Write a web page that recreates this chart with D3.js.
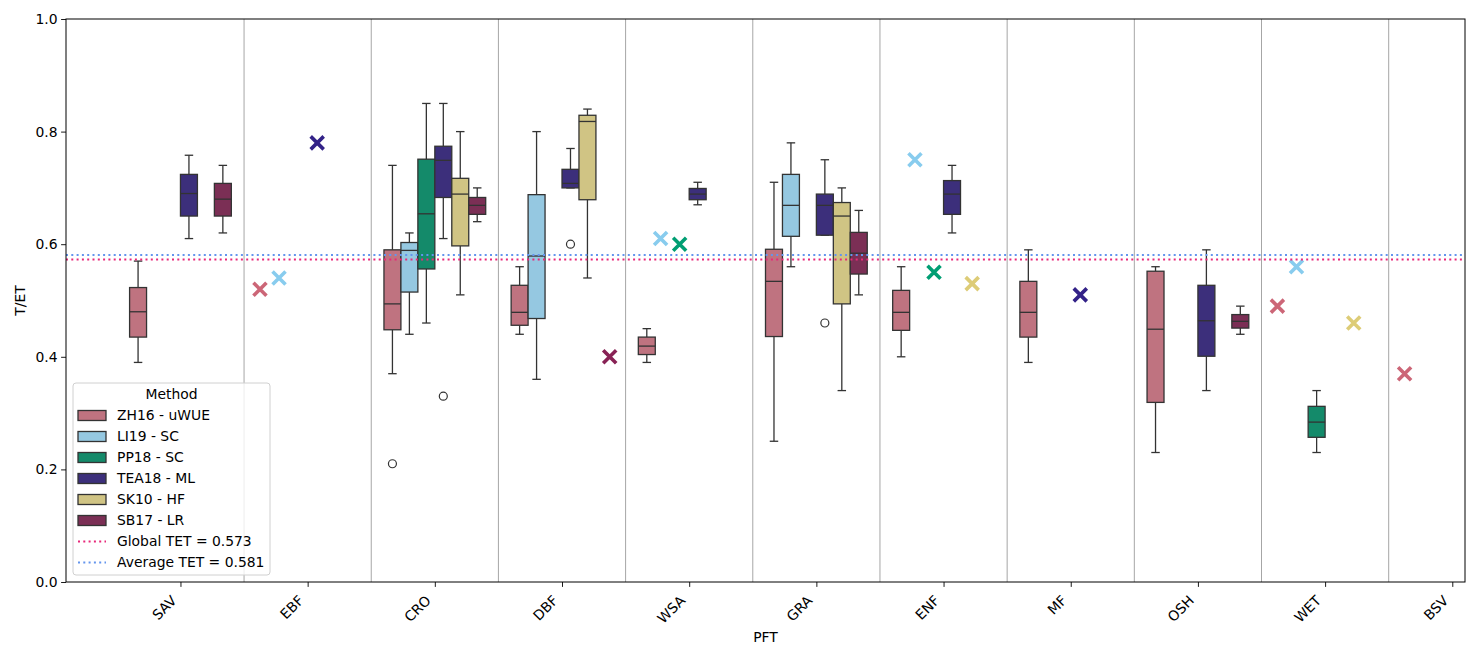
<!DOCTYPE html>
<meta charset="utf-8">
<style>
body { margin: 0; background: #fff; }
svg text { font-family: "DejaVu Sans", sans-serif; }
.tick text { font-size: 13.9px; fill: #000; }
.tick line { stroke: #000; stroke-width: 0.9; }
</style>
<svg width="1482" height="656"></svg>
<script src="https://d3js.org/d3.v7.min.js"></script>
<script>
// categories and hues
var pfts = ["SAV", "EBF", "CRO", "DBF", "WSA", "GRA", "ENF", "MF", "OSH", "WET", "BSV"];
var methods = ["ZH16 - uWUE", "LI19 - SC", "PP18 - SC", "TEA18 - ML", "SK10 - HF", "SB17 - LR"];
var methodColors = ["#CC6677", "#88CCEE", "#009E73", "#332288", "#DDCC77", "#882255"];

// pft, method index, whisker low, q1, median, q3, whisker high
var boxRows = [
  ["SAV", 0, 0.39, 0.435, 0.48, 0.523, 0.57],
  ["SAV", 3, 0.61, 0.65, 0.69, 0.724, 0.758],
  ["SAV", 5, 0.62, 0.65, 0.68, 0.708, 0.74],
  ["CRO", 0, 0.37, 0.448, 0.494, 0.59, 0.74],
  ["CRO", 1, 0.44, 0.515, 0.589, 0.603, 0.62],
  ["CRO", 2, 0.46, 0.556, 0.654, 0.751, 0.85],
  ["CRO", 3, 0.61, 0.683, 0.749, 0.774, 0.85],
  ["CRO", 4, 0.51, 0.597, 0.689, 0.717, 0.80],
  ["CRO", 5, 0.64, 0.653, 0.669, 0.683, 0.70],
  ["DBF", 0, 0.44, 0.456, 0.479, 0.527, 0.56],
  ["DBF", 1, 0.36, 0.468, 0.579, 0.688, 0.80],
  ["DBF", 3, 0.70, 0.70, 0.708, 0.733, 0.77],
  ["DBF", 4, 0.54, 0.679, 0.818, 0.829, 0.84],
  ["WSA", 0, 0.39, 0.404, 0.419, 0.435, 0.45],
  ["WSA", 3, 0.67, 0.679, 0.689, 0.699, 0.71],
  ["GRA", 0, 0.25, 0.436, 0.534, 0.591, 0.71],
  ["GRA", 1, 0.56, 0.614, 0.669, 0.724, 0.78],
  ["GRA", 3, 0.616, 0.616, 0.669, 0.689, 0.75],
  ["GRA", 4, 0.34, 0.494, 0.65, 0.674, 0.70],
  ["GRA", 5, 0.51, 0.547, 0.584, 0.621, 0.66],
  ["ENF", 0, 0.40, 0.447, 0.479, 0.518, 0.56],
  ["ENF", 3, 0.62, 0.653, 0.689, 0.713, 0.74],
  ["MF", 0, 0.39, 0.435, 0.479, 0.534, 0.59],
  ["OSH", 0, 0.23, 0.319, 0.449, 0.552, 0.56],
  ["OSH", 3, 0.34, 0.401, 0.464, 0.527, 0.59],
  ["OSH", 5, 0.44, 0.451, 0.463, 0.475, 0.49],
  ["WET", 2, 0.23, 0.257, 0.284, 0.312, 0.34]
];

// fliers
var outliers = [
  ["CRO", 0, 0.21],
  ["CRO", 3, 0.33],
  ["DBF", 3, 0.60],
  ["GRA", 3, 0.46]
];

// single-site values drawn as crosses
var singles = [
  ["EBF", 0, 0.52], ["EBF", 1, 0.54], ["EBF", 3, 0.78],
  ["DBF", 5, 0.40],
  ["WSA", 1, 0.61], ["WSA", 2, 0.60],
  ["ENF", 1, 0.75], ["ENF", 2, 0.55], ["ENF", 4, 0.53],
  ["MF", 3, 0.51],
  ["WET", 0, 0.49], ["WET", 1, 0.56], ["WET", 4, 0.46],
  ["BSV", 0, 0.37]
];

var globalTET = 0.573;
var averageTET = 0.581;
var yTicks = [0, 0.2, 0.4, 0.6, 0.8, 1.0];

var svg = d3.select("svg"),
    margin = {top: 19, right: 17, bottom: 74, left: 66},
    width = +svg.attr("width") - margin.left - margin.right,
    height = +svg.attr("height") - margin.top - margin.bottom,
    g = svg.append("g").attr("transform", "translate(" + margin.left + "," + margin.top + ")");

var x = d3.scaleLinear().domain([-0.9, 10.1]).range([0, width]);
var y = d3.scaleLinear().domain([0, 1]).range([height, 0]);
var unit = x(1) - x(0);
var boxW = 0.8 / methods.length;

function boxX(pft, m) { return x(pfts.indexOf(pft) + (m - (methods.length - 1) / 2) * boxW); }
function dotX(pft, m) { return x(pfts.indexOf(pft) + (m - (methods.length - 1) / 2) * 0.15); }
function muted(c) { var h = d3.hsl(c); h.s *= 0.75; return h.formatHex(); }

// category separators
g.selectAll(".sep")
  .data(d3.range(pfts.length - 1))
  .enter().append("line")
    .attr("x1", function(d) { return x(d + 0.5); })
    .attr("x2", function(d) { return x(d + 0.5); })
    .attr("y1", 0).attr("y2", height)
    .attr("stroke", "#a6a6a6").attr("stroke-width", 1);

var edge = "#333333";
var bw = boxW * unit;

var box = g.selectAll(".box")
  .data(boxRows)
  .enter().append("g")
    .attr("class", "box");

// whiskers
box.append("line")
  .attr("x1", function(d) { return boxX(d[0], d[1]); })
  .attr("x2", function(d) { return boxX(d[0], d[1]); })
  .attr("y1", function(d) { return y(d[2]); })
  .attr("y2", function(d) { return y(d[3]); })
  .attr("stroke", edge).attr("stroke-width", 1.3);
box.append("line")
  .attr("x1", function(d) { return boxX(d[0], d[1]); })
  .attr("x2", function(d) { return boxX(d[0], d[1]); })
  .attr("y1", function(d) { return y(d[5]); })
  .attr("y2", function(d) { return y(d[6]); })
  .attr("stroke", edge).attr("stroke-width", 1.3);
// caps
[2, 6].forEach(function(k) {
  box.append("line")
    .attr("x1", function(d) { return boxX(d[0], d[1]) - bw / 4; })
    .attr("x2", function(d) { return boxX(d[0], d[1]) + bw / 4; })
    .attr("y1", function(d) { return y(d[k]); })
    .attr("y2", function(d) { return y(d[k]); })
    .attr("stroke", edge).attr("stroke-width", 1.3);
});
box.append("rect")
  .attr("x", function(d) { return boxX(d[0], d[1]) - bw / 2; })
  .attr("width", bw)
  .attr("y", function(d) { return y(d[5]); })
  .attr("height", function(d) { return y(d[3]) - y(d[5]); })
  .attr("fill", function(d) { return muted(methodColors[d[1]]); })
  .attr("stroke", edge).attr("stroke-width", 1.3);
box.append("line")
  .attr("x1", function(d) { return boxX(d[0], d[1]) - bw / 2; })
  .attr("x2", function(d) { return boxX(d[0], d[1]) + bw / 2; })
  .attr("y1", function(d) { return y(d[4]); })
  .attr("y2", function(d) { return y(d[4]); })
  .attr("stroke", edge).attr("stroke-width", 1.3);

g.selectAll(".flier")
  .data(outliers)
  .enter().append("circle")
    .attr("cx", function(d) { return boxX(d[0], d[1]); })
    .attr("cy", function(d) { return y(d[2]); })
    .attr("r", 4)
    .attr("fill", "none").attr("stroke", edge).attr("stroke-width", 1.2);

var s = 6.5;
g.selectAll(".single")
  .data(singles)
  .enter().append("path")
    .attr("transform", function(d) { return "translate(" + dotX(d[0], d[1]) + "," + y(d[2]) + ")"; })
    .attr("d", "M" + -s + "," + -s + "L" + s + "," + s + "M" + -s + "," + s + "L" + s + "," + -s)
    .attr("stroke", function(d) { return methodColors[d[1]]; })
    .attr("stroke-width", 3.6)
    .attr("fill", "none");

// reference lines, drawn over the boxes
g.append("line").attr("x1", 0).attr("x2", width).attr("y1", y(globalTET)).attr("y2", y(globalTET))
  .attr("stroke", "#e8287a").attr("stroke-width", 2).attr("stroke-dasharray", "2,3.3");
g.append("line").attr("x1", 0).attr("x2", width).attr("y1", y(averageTET)).attr("y2", y(averageTET))
  .attr("stroke", "#6495ED").attr("stroke-width", 2).attr("stroke-dasharray", "2,3.3");

// axes
var xAxis = g.append("g")
  .attr("transform", "translate(0," + height + ")")
  .call(d3.axisBottom(x).tickValues(d3.range(pfts.length)).tickFormat(function(i) { return pfts[i]; }).tickSize(4.9).tickPadding(3.5));
xAxis.select(".domain").remove();
xAxis.selectAll("text")
  .attr("x", 0).attr("y", 0)
  .attr("text-anchor", "end")
  .attr("dy", "0.35em")
  .attr("transform", "translate(-7,16) rotate(-45)");

var yAxis = g.append("g")
  .call(d3.axisLeft(y).tickValues(yTicks).tickFormat(d3.format(".1f")).tickSize(4.9).tickPadding(3.5));
yAxis.select(".domain").remove();

g.append("rect").attr("width", width).attr("height", height)
  .attr("fill", "none").attr("stroke", "#000").attr("stroke-width", 1);

svg.append("text").attr("x", margin.left + width / 2).attr("y", 642)
  .attr("text-anchor", "middle").style("font-size", "13.9px").text("PFT");
svg.append("text").attr("transform", "translate(25," + (margin.top + height / 2) + ") rotate(-90)")
  .attr("text-anchor", "middle").style("font-size", "13.9px").text("T/ET");

// legend
var lg = svg.append("g").attr("transform", "translate(73,383)");
lg.append("rect").attr("width", 197).attr("height", 192).attr("rx", 3)
  .attr("fill", "#fff").attr("fill-opacity", 0.8).attr("stroke", "#d0d0d0");
lg.append("text").attr("x", 98.5).attr("y", 16).attr("text-anchor", "middle")
  .style("font-size", "13.9px").text("Method");
methods.forEach(function(m, i) {
  var yy = 32.5 + i * 21;
  lg.append("rect").attr("x", 5).attr("y", yy - 5).attr("width", 28).attr("height", 10)
    .attr("fill", muted(methodColors[i])).attr("stroke", edge).attr("stroke-width", 1.3);
  lg.append("text").attr("x", 44).attr("y", yy).attr("dy", "0.35em").style("font-size", "13.9px").text(m);
});
[["Global TET = " + globalTET, "#e8287a"], ["Average TET = " + averageTET, "#6495ED"]].forEach(function(r, j) {
  var yy = 32.5 + (methods.length + j) * 21;
  lg.append("line").attr("x1", 5).attr("x2", 33).attr("y1", yy).attr("y2", yy)
    .attr("stroke", r[1]).attr("stroke-width", 2).attr("stroke-dasharray", "2,3.3");
  lg.append("text").attr("x", 44).attr("y", yy).attr("dy", "0.35em").style("font-size", "13.9px").text(r[0]);
});
</script>
